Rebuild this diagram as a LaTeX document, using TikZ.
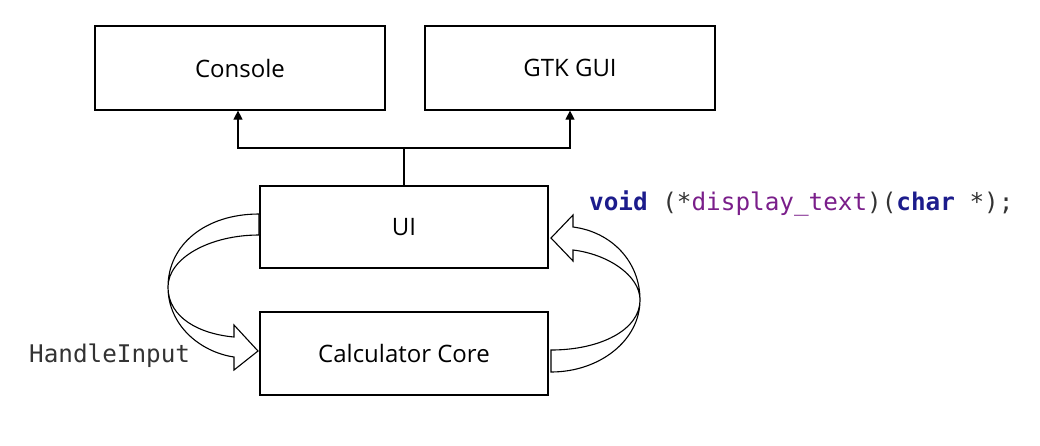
\documentclass[tikz,border=0pt]{standalone}
\usepackage{fontspec}
\setmainfont{Open Sans}
\newfontfamily\codefont{DejaVu Sans Mono}
\usetikzlibrary{arrows.meta}
\definecolor{kw}{HTML}{1C1C8C}
\definecolor{fn}{HTML}{7A1E8A}
\definecolor{pu}{HTML}{333333}
\begin{document}
\begin{tikzpicture}[x=1pt,y=-1pt,
  box/.style={draw=black,line width=1.2pt,fill=white,minimum width=290pt,minimum height=84pt,inner sep=0pt,font=\fontsize{24}{28}\selectfont},
  conn/.style={draw=black,line width=1.2pt},
  blockarrow/.style={draw=black,line width=1.1pt,fill=white,line join=miter},
  code/.style={font=\codefont\fontsize{24.3}{28}\selectfont,inner sep=0pt,anchor=west}]
\path[use as bounding box] (0,0) rectangle (1040,445);
\node[box] (console) at (240,68) {Console};
\node[box] (gtk) at (570,68) {GTK GUI};
\node[box,minimum width=288pt,minimum height=82pt] (ui) at (404,227) {UI};
\node[box,minimum width=288pt,minimum height=83pt] (core) at (404,353.5) {Calculator Core};
\coordinate (j) at (404,148);
\draw[conn] (ui.north) -- (j);
\draw[conn,-{Triangle[length=9pt,width=9pt]}] (j) -| ([xshift=-2pt]console.south);
\draw[conn,-{Triangle[length=9pt,width=9pt]}] (j) -| (gtk.south);
% left curved block arrow (UI -> Core)
\path[blockarrow] (259,214) .. controls (205,214) and (168,245) .. (168,287)
  .. controls (168,325) and (200,352) .. (234,357)
  -- (234,370) -- (258,351) -- (234,325) -- (234,337)
  .. controls (200,334) and (168,318) .. (168,287)
  .. controls (168,258) and (210,235) .. (259,235) -- cycle;
% right curved block arrow (Core -> UI)
\path[blockarrow] (551,372) .. controls (600,372) and (640,340) .. (640,300)
  .. controls (640,262) and (612,232) .. (573,227)
  -- (573,215) -- (551,238) -- (573,261) -- (573,250)
  .. controls (607,254) and (640,275) .. (640,300)
  .. controls (640,330) and (600,350) .. (551,350) -- cycle;
\node[code] (hi) at (29,356) {\color{pu}HandleInput};
\node[code] (sig) at (589,203) {\textcolor{kw}{\bfseries void} \textcolor{pu}{(*}\textcolor{fn}{display\_text}\textcolor{pu}{)(}\textcolor{kw}{\bfseries char} \textcolor{pu}{*);}};
\end{tikzpicture}
\end{document}
